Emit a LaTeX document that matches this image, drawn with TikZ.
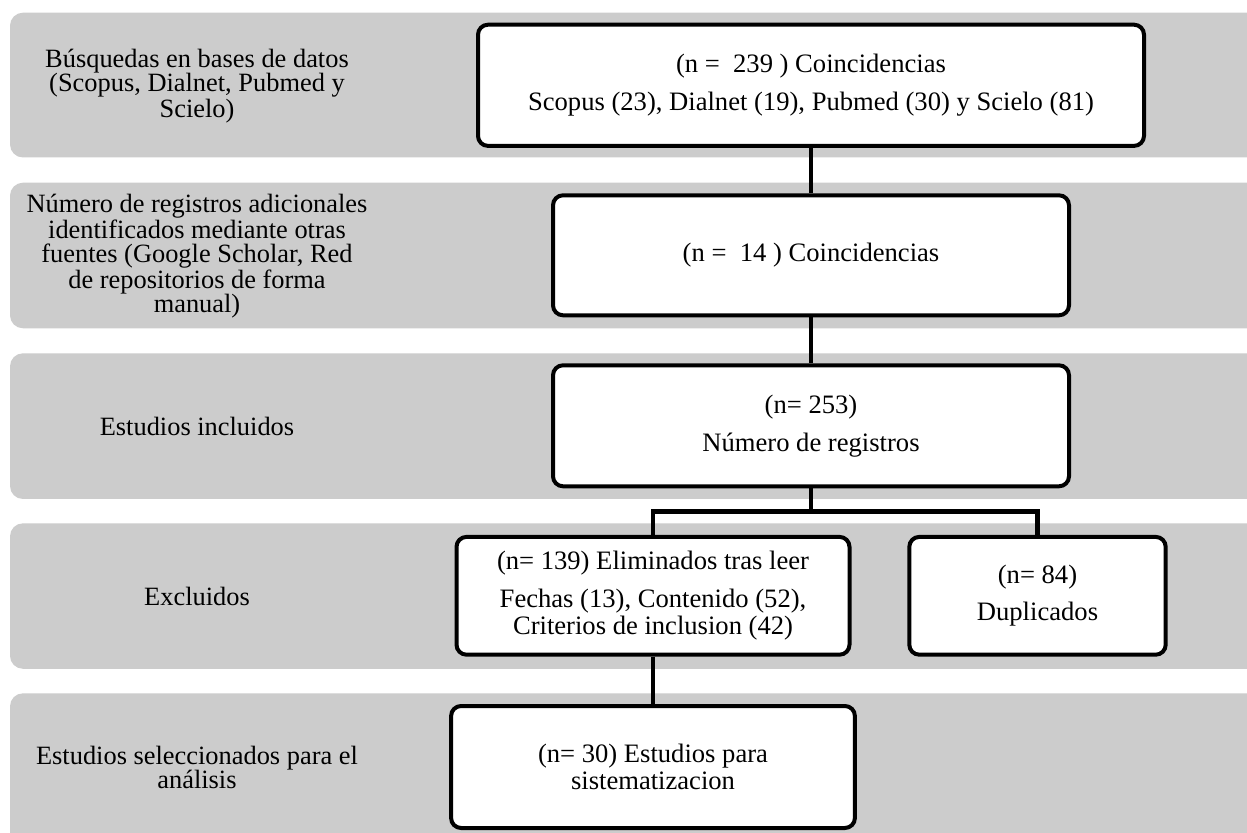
\documentclass[tikz,border=0pt]{standalone}
\usepackage{fontspec}
\setmainfont{Liberation Serif}

\tikzset{
  rowband/.style={fill=black!20, rounded corners=6.5pt},
  rowtext/.style={align=center, inner sep=0pt, font=\fontsize{13.2pt}{12pt}\selectfont},
  flowbox/.style={draw, fill=white, line width=2pt, rounded corners=5pt, align=center,
    inner sep=0pt, font=\fontsize{13.3pt}{13.5pt}\selectfont},
  conn/.style={line width=2.4pt},
}

\begin{document}
\begin{tikzpicture}[x=0.5pt, y=-0.5pt]
    \useasboundingbox (0,0) rectangle (1247,833);
    \clip (0,0) rectangle (1247,833);
    \fill[white] (0,0) rectangle (1247,833);

    % grey rows
    \fill[rowband] (10,12.7) rectangle (1280,157.5);
    \fill[rowband] (10,182.7) rectangle (1280,328.3);
    \fill[rowband] (10,353.3) rectangle (1280,499);
    \fill[rowband] (10,523.3) rectangle (1280,668.8);
    \fill[rowband] (10,693.3) rectangle (1280,850);

    % row titles
    \node[rowtext] (qsrc) at (197,86) {Búsquedas en bases de datos\\(Scopus, Dialnet, Pubmed y\\Scielo)};
    \node[rowtext] (qadd) at (197,256) {Número de registros adicionales\\identificados mediante otras\\fuentes (Google Scholar, Red\\de repositorios de forma\\manual)};
    \node[rowtext] (qinc) at (197,426) {Estudios incluidos};
    \node[rowtext] (qexc) at (197,596) {Excluidos};
    \node[rowtext] (qsel) at (197,767) {Estudios seleccionados para el\\análisis};

    % flow boxes
    \node[flowbox, minimum width=333pt, minimum height=60.6pt] (hits) at (811,85.3)
      {(n = \ 239 ) Coincidencias\\[5.5pt]Scopus (23), Dialnet (19), Pubmed (30) y Scielo (81)};
    \node[flowbox, minimum width=258pt, minimum height=60pt] (extra) at (811,255.3)
      {(n = \ 14 ) Coincidencias};
    \node[flowbox, minimum width=258pt, minimum height=60.5pt] (total) at (811,425.8)
      {(n= 253)\\[5.5pt]Número de registros};
    \node[flowbox, minimum width=196.5pt, minimum height=58.9pt] (removed) at (653,595.8)
      {(n= 139) Eliminados tras leer\\[5.3pt]Fechas (13), Contenido (52),\\Criterios de inclusion (42)};
    \node[flowbox, minimum width=128.2pt, minimum height=58.9pt] (dupl) at (1037.5,595.8)
      {(n= 84)\\[4.8pt]Duplicados};
    \node[flowbox, minimum width=201.9pt, minimum height=61pt] (final) at (653,767)
      {(n= 30) Estudios para\\sistematizacion};

    % connectors
    \coordinate (fork) at (811,511.7);
    \draw[conn] (hits.south) -- (extra.north);
    \draw[conn] (extra.south) -- (total.north);
    \draw[conn] (total.south) -- (fork);
    \draw[conn] (removed.north) |- (fork) -| (dupl.north);
    \draw[conn] (removed.south) -- (final.north);
\end{tikzpicture}
\end{document}
